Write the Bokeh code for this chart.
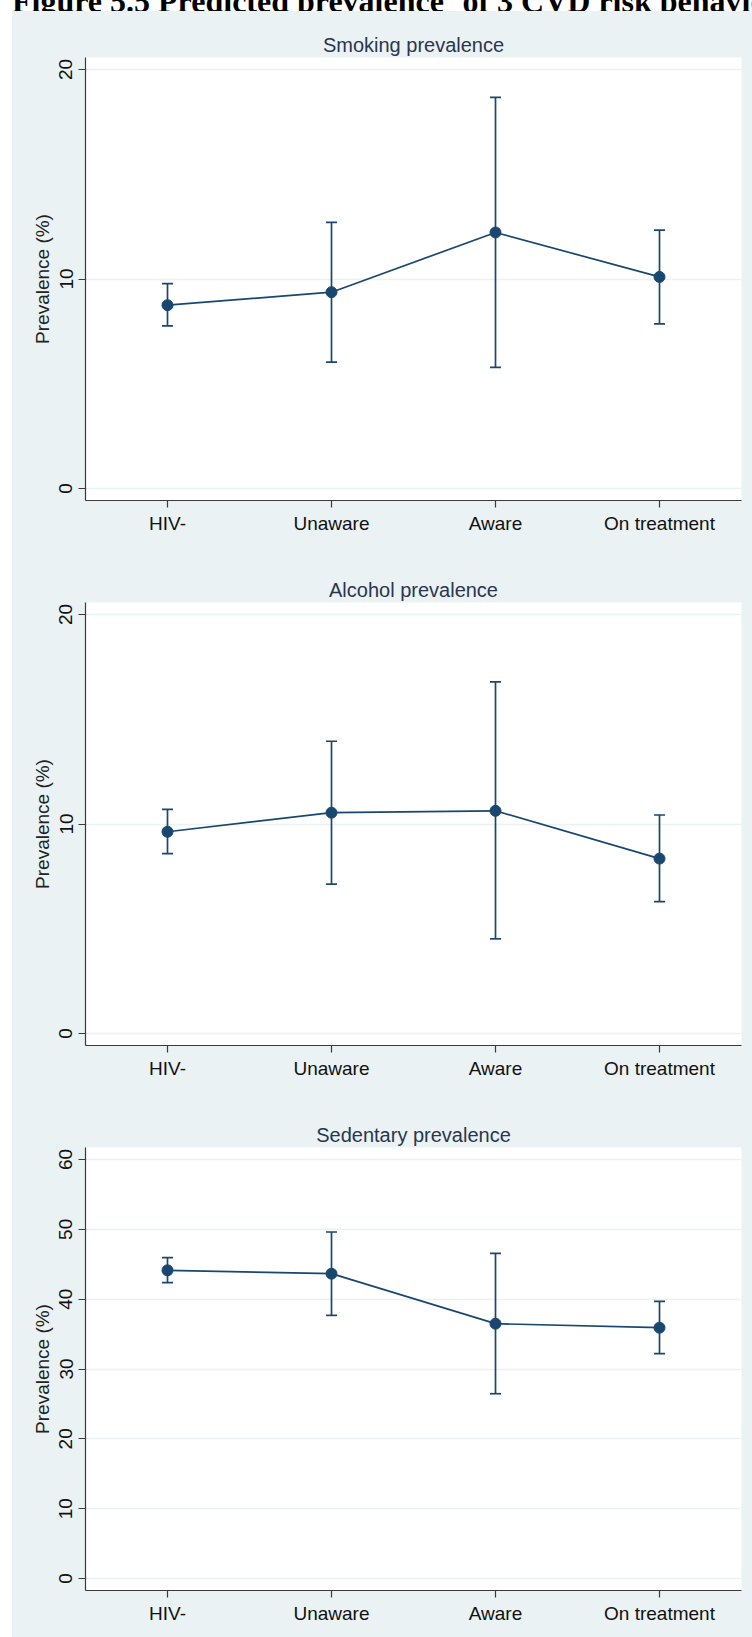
from bokeh.plotting import figure
from bokeh.models import ColumnDataSource, FactorRange, Range1d, FixedTicker, Div, Spacer
from bokeh.layouts import column, row
from bokeh.embed import file_html
from bokeh.resources import INLINE

# HIV status groups shown on every panel
categories = ["HIV-", "Unaware", "Aware", "On treatment"]

# Predicted prevalence (%) with 95% confidence limits
smoking_est = [8.75, 9.37, 12.22, 10.10]
smoking_lo = [7.76, 6.03, 5.78, 7.86]
smoking_hi = [9.78, 12.70, 18.67, 12.33]

alcohol_est = [9.63, 10.54, 10.63, 8.35]
alcohol_lo = [8.59, 7.13, 4.52, 6.30]
alcohol_hi = [10.70, 13.95, 16.78, 10.43]

sedentary_est = [44.13, 43.65, 36.49, 35.92]
sedentary_lo = [42.36, 37.68, 26.46, 32.19]
sedentary_hi = [45.94, 49.62, 46.56, 39.68]

small_ticks = [0, 10, 20]
large_ticks = [0, 10, 20, 30, 40, 50, 60]

BG = "#eaf2f3"
NAVY = "#1a476f"
AXIS = "#3a3a3a"
SANS = "Liberation Sans"


def panel(title, est, lo, hi, ticks, yr, height, border_bottom):
    src = ColumnDataSource(dict(cat=categories, est=est, lo=lo, hi=hi))
    p = figure(
        x_range=FactorRange(*categories),
        y_range=Range1d(*yr),
        width=740, height=height,
        min_border_left=73, min_border_right=11,
        min_border_top=46, min_border_bottom=border_bottom,
        title=title,
        output_backend="svg", toolbar_location=None,
        margin=(0, 0, 0, 0),
        styles={"background-color": BG},
    )
    p.border_fill_color = BG
    p.background_fill_color = "white"
    p.outline_line_color = None

    p.title.align = "center"
    p.title.text_font = SANS
    p.title.text_font_size = "20px"
    p.title.text_font_style = "normal"
    p.title.text_color = "#2b3550"
    p.title.standoff = 4

    # confidence intervals: stems plus flat caps
    p.segment(x0="cat", y0="lo", x1="cat", y1="hi", source=src,
              line_color=NAVY, line_width=1.7)
    p.scatter(x="cat", y="lo", source=src, marker="dash", size=11,
              line_color=NAVY, line_width=1.7)
    p.scatter(x="cat", y="hi", source=src, marker="dash", size=11,
              line_color=NAVY, line_width=1.7)
    # point estimates joined by a line
    p.line(x="cat", y="est", source=src, line_color=NAVY, line_width=1.7)
    p.scatter(x="cat", y="est", source=src, marker="circle", size=11,
              fill_color=NAVY, line_color=NAVY)

    p.xgrid.grid_line_color = None
    p.ygrid.grid_line_color = BG
    p.ygrid.grid_line_width = 1.5

    p.yaxis.ticker = FixedTicker(ticks=ticks)
    p.yaxis.minor_tick_line_color = None
    p.yaxis.major_label_orientation = "vertical"
    p.yaxis.axis_label = "Prevalence (%)"
    p.yaxis.axis_label_text_font = SANS
    p.yaxis.axis_label_text_font_size = "19px"
    p.yaxis.axis_label_text_font_style = "normal"
    p.yaxis.axis_label_text_color = "#222222"
    p.yaxis.axis_label_standoff = 4
    p.yaxis.major_label_standoff = 6

    for ax in (p.xaxis, p.yaxis):
        ax.axis_line_color = AXIS
        ax.axis_line_width = 1.2
        ax.major_tick_line_color = AXIS
        ax.major_tick_line_width = 1.2
        ax.major_tick_out = 7
        ax.major_tick_in = 0
        ax.major_label_text_font = SANS
        ax.major_label_text_font_size = "19px"
        ax.major_label_text_color = "#111111"
    p.xaxis.major_label_standoff = 5
    return p


p1 = panel("Smoking prevalence", smoking_est, smoking_lo, smoking_hi,
           small_ticks, (-0.57, 20.57), 545, 56)
p2 = panel("Alcohol prevalence", alcohol_est, alcohol_lo, alcohol_hi,
           small_ticks, (-0.57, 20.57), 545, 56)
p3 = panel("Sedentary prevalence", sedentary_est, sedentary_lo, sedentary_hi,
           large_ticks, (-1.72, 61.72), 536, 47)

heading = Div(
    text=(
        '<div style="margin-top:-18px;margin-left:12px;white-space:nowrap;'
        'font-family:\'Liberation Serif\';font-weight:bold;font-size:32px;'
        'line-height:32px;color:#000;">Figure 5.5 Predicted prevalence'
        '<span style="position:relative;top:-12px;font-size:21px;">a</span>'
        ' of 3 CVD risk behaviours</div>'
    ),
    width=752, height=11,
    margin=(0, 0, 0, 0),
    styles={"overflow": "hidden"},
)

panels = column(p1, p2, p3, spacing=0, margin=(0, 0, 0, 0),
                styles={"background-color": BG})

layout = column(
    heading,
    row(Spacer(width=12, margin=(0, 0, 0, 0)), panels,
        spacing=0, margin=(0, 0, 0, 0)),
    spacing=0, margin=(0, 0, 0, 0),
)

open("out.html", "w").write(file_html(layout, INLINE))
